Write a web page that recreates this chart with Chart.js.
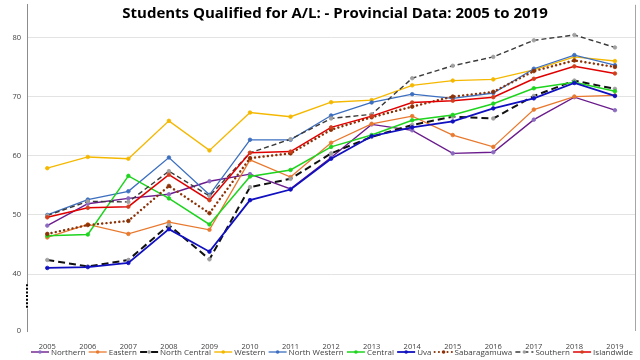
<!DOCTYPE html>
<html><head><meta charset="utf-8">
<script src="https://cdn.jsdelivr.net/npm/chart.js@4/dist/chart.umd.min.js"></script>
<style>html,body{margin:0;padding:0;background:#fff}#wrap{width:640px;height:360px}</style>
</head><body><div id="wrap"><canvas id="c" width="640" height="360"></canvas></div>
<script>
const years = ['2005','2006','2007','2008','2009','2010','2011','2012','2013','2014','2015','2016','2017','2018','2019'];
const northern     = [48.2, 51.9, 52.8, 53.5, 55.7, 56.9, 54.4, 59.7, 65.3, 64.3, 60.4, 60.6, 66.1, 69.9, 67.7];
const eastern      = [46.2, 48.4, 46.8, 48.8, 47.5, 59.3, 56.4, 62.2, 65.4, 66.7, 63.5, 61.5, 67.8, 70.0, 70.2];
const northCentral = [42.4, 41.3, 42.4, 48.3, 42.5, 54.7, 56.1, 60.4, 63.2, 65.2, 66.6, 66.3, 70.1, 72.7, 71.3];
const western      = [57.9, 59.8, 59.5, 65.9, 60.9, 67.3, 66.6, 69.05, 69.4, 71.9, 72.7, 72.9, 74.5, 76.7, 76.0];
const northWestern = [50.0, 52.6, 54.0, 59.7, 53.4, 62.7, 62.7, 66.8, 69.0, 70.4, 69.7, 70.6, 74.7, 77.0, 75.3];
const central      = [46.5, 46.7, 56.6, 52.8, 48.4, 56.5, 57.6, 61.5, 63.5, 66.0, 66.9, 68.8, 71.4, 72.4, 70.9];
const uva          = [41.05, 41.2, 41.9, 47.6, 43.8, 52.5, 54.3, 59.5, 63.3, 64.8, 65.8, 68.0, 69.7, 72.3, 70.1];
const sabaragamuwa = [46.8, 48.3, 49.0, 54.9, 50.3, 59.6, 60.4, 64.4, 66.5, 68.3, 70.0, 70.8, 74.3, 76.1, 75.0];
const southern     = [49.9, 52.3, 52.2, 57.4, 53.2, 60.5, 62.8, 66.3, 67.0, 73.1, 75.2, 76.7, 79.5, 80.4, 78.3];
const islandwide   = [49.6, 51.2, 51.4, 56.8, 52.5, 60.5, 60.7, 64.8, 66.7, 69.0, 69.3, 69.9, 73.0, 75.1, 73.9];
const yTickValues = [40, 50, 60, 70, 80];
const yMin = 30.4, yMax = 85.5;
const titleText = 'Students Qualified for A/L: - Provincial Data: 2005 to 2019';

function ds(label, data, color, width, dash, ptColor, cap) {
  return {label, data, borderColor: color, backgroundColor: ptColor || color,
    borderWidth: width, borderDash: dash || [], borderCapStyle: cap || 'butt',
    pointRadius: 1.8, pointBorderWidth: 0.8, pointBackgroundColor: ptColor || color,
    pointBorderColor: ptColor || color, tension: 0, fill: false};
}
const datasets = [
  ds('Northern', northern, '#6a1b8c', 1.4, null, '#8a6bbf'),
  ds('Eastern', eastern, '#e8792e', 1.3),
  ds('North Central', northCentral, '#111111', 2, [7,4], '#a0a0a0'),
  ds('Western', western, '#f5b800', 1.4),
  ds('North Western', northWestern, '#3c6fc0', 1.3),
  ds('Central', central, '#1ed41e', 1.5),
  ds('Uva', uva, '#1010c0', 1.8),
  ds('Sabaragamuwa', sabaragamuwa, '#8b3208', 2.4, [0.1,4.2], '#8b3208', 'round'),
  ds('Southern', southern, '#3a3a3a', 1.4, [5,3], '#a0a0a0'),
  ds('Islandwide', islandwide, '#e00000', 1.5, null, '#d0401e')
];
datasets.forEach((d,i)=>{ d.order = datasets.length - i; });

const decor = {
  id: 'decor',
  afterDraw(chart) {
    const ctx = chart.ctx, a = chart.chartArea, y = chart.scales.y;
    ctx.save();
    // right border
    ctx.strokeStyle = '#a6a6a6'; ctx.lineWidth = 1;
    ctx.beginPath(); ctx.moveTo(Math.round(a.right)+0.5, a.top); ctx.lineTo(Math.round(a.right)+0.5, a.bottom); ctx.stroke();
    // axis break
    const y1 = y.getPixelForValue(38.3), y2 = y.getPixelForValue(34.2);
    const x = a.left;
    ctx.strokeStyle = '#ffffff'; ctx.lineWidth = 3;
    ctx.beginPath(); ctx.moveTo(x, y1); ctx.lineTo(x, y2); ctx.stroke();
    ctx.strokeStyle = '#000000'; ctx.lineWidth = 2; ctx.setLineDash([2,1.6]);
    ctx.beginPath(); ctx.moveTo(x, y1); ctx.lineTo(x, y2); ctx.stroke();
    ctx.setLineDash([]);
    // title
    ctx.fillStyle = '#000'; ctx.font = 'bold 15px "Open Sans"';
    ctx.textAlign = 'center'; ctx.textBaseline = 'middle';
    ctx.fillText(titleText, 335, 14);
    // legend
    ctx.font = '8px "Open Sans"'; ctx.textAlign = 'left';
    const sym = 18, gapT = 2;
    const items = chart.data.datasets.map(d => ({d, w: ctx.measureText(d.label).width}));
    const tot = items.reduce((s,it)=>s+sym+gapT+it.w,0);
    const span = 602;
    const g = (span - tot) / (items.length - 1);
    let cx = 31; const cy = 352;
    items.forEach(it => {
      const d = it.d;
      ctx.strokeStyle = d.borderColor; ctx.lineWidth = Math.min(d.borderWidth, 2);
      ctx.setLineDash(d.borderDash); ctx.lineCap = d.borderCapStyle;
      ctx.beginPath(); ctx.moveTo(cx, cy); ctx.lineTo(cx+sym, cy); ctx.stroke();
      ctx.setLineDash([]); ctx.lineCap = 'butt';
      ctx.fillStyle = d.pointBackgroundColor;
      ctx.beginPath(); ctx.arc(cx+sym/2, cy, 1.8, 0, Math.PI*2); ctx.fill();
      ctx.fillStyle = '#404040';
      ctx.fillText(d.label, cx+sym+gapT, cy+0.5);
      cx += sym + gapT + it.w + g;
    });
    ctx.restore();
  }
};

new Chart(document.getElementById('c'), {
  type: 'line',
  data: {labels: years, datasets},
  options: {
    responsive: false, animation: false, devicePixelRatio: 1,
    layout: {padding: {top: 0, right: 4, left: 0, bottom: 0}},
    plugins: {legend: {display: false}, title: {display: false}, tooltip: {enabled: false}},
    scales: {
      x: {offset: true, grid: {display: false}, border: {display: false},
          ticks: {font: {family: 'Open Sans', size: 7.5}, color: '#404040', padding: 3, maxRotation: 0, autoSkip: false},
          afterFit(s) { s.height = 29; s.paddingLeft = 0; s.paddingRight = 0; }},
      y: {min: yMin, max: yMax,
          afterBuildTicks(s) { s.ticks = [yMin].concat(yTickValues).map(v => ({value: v})); },
          afterFit(s) { s.width = 27; s.paddingTop = 0; s.paddingBottom = 0; },
          grid: {drawTicks: false, color: c => (c.tick && c.tick.value > 35) ? '#e3e3e3' : 'rgba(0,0,0,0)', lineWidth: 1},
          border: {display: true, color: '#8c8c8c', width: 1},
          ticks: {padding: 6, font: {family: 'Open Sans', size: 7.5}, color: '#404040', autoSkip: false,
                  callback: v => (v < 35 ? '0' : String(v))}}
    }
  },
  plugins: [decor]
});
</script></body></html>
